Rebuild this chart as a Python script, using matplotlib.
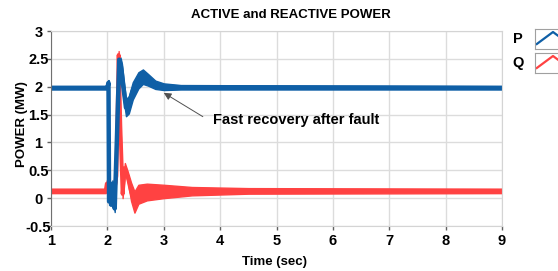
import matplotlib.pyplot as plt
import numpy as np

# active power P (MW): time (s) and the lower / upper edge of the noisy trace
t_p = [1.00, 1.97, 2.00, 2.02, 2.03, 2.06, 2.09, 2.11, 2.13, 2.17, 2.21, 2.24,
       2.27, 2.33, 2.38, 2.45, 2.55, 2.63, 2.72, 2.85, 3.00, 3.30, 9.00]
p_lo = [1.95, 1.95, 1.95, 2.02, -0.12, -0.14, 0.20, -0.10, -0.25, 1.00, 2.40, 2.30,
        1.90, 1.47, 1.52, 1.77, 1.97, 2.05, 2.02, 1.96, 1.94, 1.95, 1.95]
p_hi = [2.01, 2.01, 2.01, 2.12, 0.00, 0.05, 0.32, 0.00, -0.12, 1.20, 2.57, 2.50,
        2.30, 1.78, 1.83, 2.08, 2.26, 2.31, 2.23, 2.11, 2.06, 2.03, 2.01]

# reactive power Q (MW)
t_q = [1.00, 1.97, 1.99, 2.05, 2.12, 2.16, 2.20, 2.23, 2.27, 2.31, 2.36, 2.42,
       2.48, 2.55, 2.70, 3.00, 3.50, 4.50, 9.00]
q_lo = [0.09, 0.09, 0.20, 0.10, 0.05, 0.30, 2.50, 1.20, 0.00, 0.45, 0.30, -0.05,
        -0.26, -0.10, -0.04, 0.00, 0.05, 0.08, 0.09]
q_hi = [0.17, 0.17, 0.32, 0.25, 0.20, 0.50, 2.64, 1.40, 0.15, 0.63, 0.48, 0.28,
        0.12, 0.24, 0.26, 0.24, 0.20, 0.18, 0.17]

x_ticks = [1, 2, 3, 4, 5, 6, 7, 8, 9]
y_ticks = [-0.5, 0, 0.5, 1, 1.5, 2, 2.5, 3]
y_labels = ['-0.5', '0', '0.5', '1', '1.5', '2', '2.5', '3']

blue = '#0f5fa6'
red = '#ff4242'
font = 'Liberation Sans'

fig = plt.figure(figsize=(5.58, 2.71), dpi=100)
ax = fig.add_axes([51/558, 1 - 226/271, 451/558, 195/271])

# red first, blue drawn on top of it
q_mid = (np.array(q_lo) + np.array(q_hi)) / 2
ax.fill_between(t_q, q_lo, q_hi, color=red, lw=1.0)
ax.plot(t_q, q_mid, color=red, lw=2.8, solid_joinstyle='round')
p_mid = (np.array(p_lo) + np.array(p_hi)) / 2
ax.fill_between(t_p, p_lo, p_hi, color=blue, lw=1.0)
ax.plot(t_p, p_mid, color=blue, lw=3.2, solid_joinstyle='round')

ax.set_xlim(1, 9)
ax.set_ylim(-0.5, 3)
ax.set_xticks(x_ticks)
ax.set_yticks(y_ticks)
ax.set_yticklabels(y_labels)
ax.grid(True, color='#dcdcdc', lw=1)
ax.set_axisbelow(True)
for s in ['top', 'right', 'bottom']:
    ax.spines[s].set_color('#d4d4d4')
ax.spines['left'].set_color('#707070')
ax.tick_params(length=3, width=1, color='#606060', pad=3)
for lbl in ax.get_xticklabels() + ax.get_yticklabels():
    lbl.set_fontweight('bold')
    lbl.set_fontsize(10.5)
    lbl.set_family(font)
for lbl in ax.get_yticklabels():
    lbl.set_ha('center')
ax.tick_params(axis='y', pad=6)

ax.annotate('Fast recovery after fault', xy=(3.00, 1.89), xytext=(3.87, 1.40),
            fontsize=10.5, fontweight='bold', family=font, va='center',
            arrowprops=dict(arrowstyle='-|>', color='#505050', lw=0.7,
                            mutation_scale=11, facecolor='black',
                            shrinkA=0, shrinkB=0, relpos=(-0.06, 0.75)))

fig.text(291/558, 1 - 15/271, 'ACTIVE and REACTIVE POWER', ha='center', va='center',
         fontsize=9.5, fontweight='bold', family=font)
fig.text(22/558, 1 - 124/271, 'POWER (MW)', rotation=90, ha='center', va='center',
         fontsize=9.5, fontweight='bold', family=font)
fig.text(274/558, 1 - 262/271, 'Time (sec)', ha='center', va='center',
         fontsize=9.5, fontweight='bold', family=font)

# legend: label plus a boxed chevron icon for each series
for name, col, yc in [('P', blue, 39), ('Q', red, 63)]:
    fig.text(518/558, 1 - yc/271, name, ha='center', va='center',
             fontsize=10.5, fontweight='bold', family=font)
    ia = fig.add_axes([535/558, 1 - (yc + 10)/271, 36/558, 20/271])
    ia.plot([0.05, 0.5, 0.95], [0.25, 0.85, 0.25], color=col, lw=1.6)
    ia.set_xlim(0, 1)
    ia.set_ylim(0, 1)
    ia.set_xticks([])
    ia.set_yticks([])
    for s in ia.spines.values():
        s.set_color('#a0a0a0')

fig.savefig('out.png', dpi=100)
